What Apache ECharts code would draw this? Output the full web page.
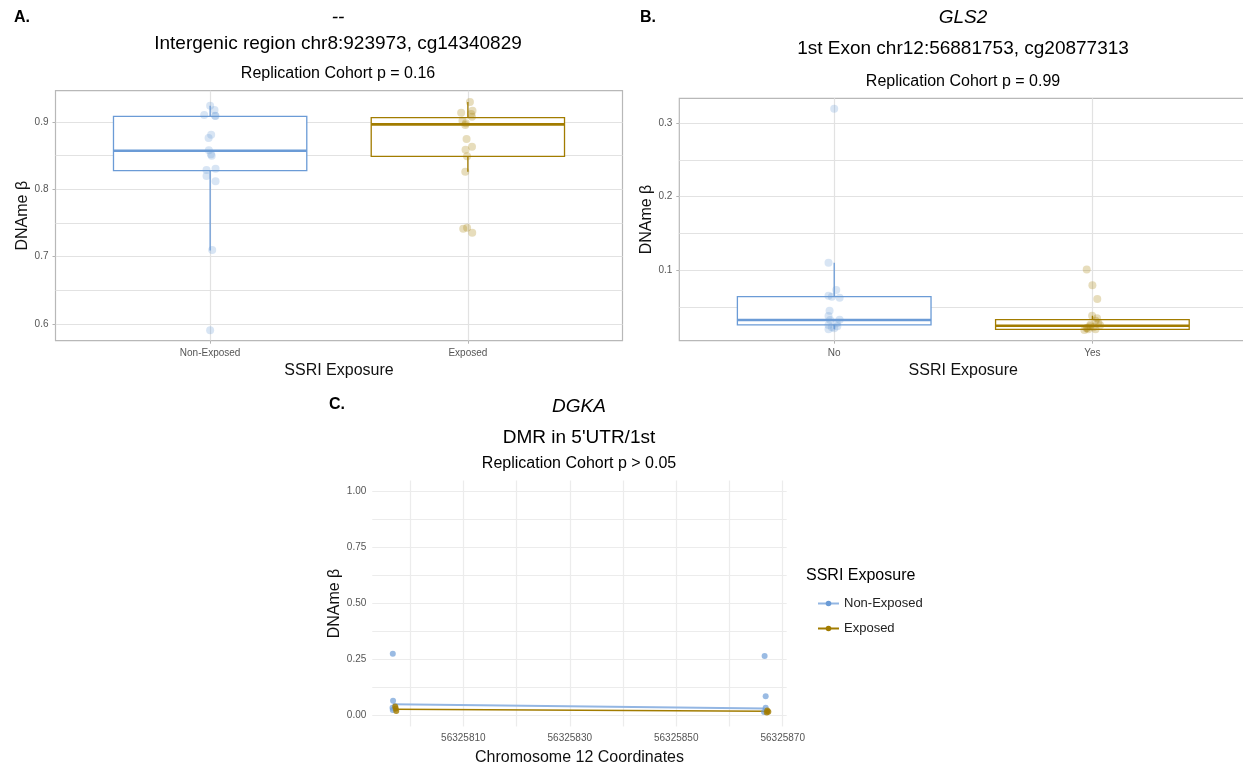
<!DOCTYPE html>
<html>
<head>
<meta charset="utf-8">
<title>SSRI exposure and DNA methylation</title>
<script src="https://cdn.jsdelivr.net/npm/echarts@6/dist/echarts.min.js"></script>
<style>
  html, body { margin: 0; padding: 0; background: #fff; }
  #chart { width: 1243px; height: 767px; }
</style>
</head>
<body>
<div id="chart"></div>
<script>
// ---- values ----
var groupsA = ['Non-Exposed', 'Exposed'];
var groupsB = ['No', 'Yes'];

// box stats: [x, lower whisker, Q1, median, Q3, upper whisker]
var boxA = [[1, 0.7093, 0.8277, 0.8574, 0.9085, 0.9242],
            [2, 0.8262, 0.8490, 0.8965, 0.9064, 0.9297]];
var boxB = [[1, 0.0200, 0.0260, 0.0326, 0.0642, 0.1103],
            [2, 0.0190, 0.0200, 0.0248, 0.0330, 0.0384]];

// jittered points [x, beta]
var pointsA_ne = [[1.000, 0.9242], [1.017, 0.9178], [0.977, 0.9104], [1.019, 0.9094], [1.021, 0.9090],
  [1.004, 0.8812], [0.994, 0.8762], [0.995, 0.8580], [1.003, 0.8520], [1.006, 0.8500], [0.986, 0.8287],
  [1.021, 0.8306], [0.986, 0.8198], [1.021, 0.8119], [1.008, 0.7098], [1.000, 0.5909]];
var pointsA_ex = [[2.008, 0.9297], [2.018, 0.9168], [1.974, 0.9138], [2.013, 0.9119], [2.016, 0.9079],
  [1.979, 0.9020], [1.992, 0.8980], [1.990, 0.8955], [1.995, 0.8747], [2.016, 0.8633], [1.991, 0.8589],
  [1.997, 0.8490], [1.990, 0.8262], [1.997, 0.7430], [1.982, 0.7415], [2.017, 0.7356]];
var pointsB_no = [[0.978, 0.1103], [1.008, 0.0733], [0.978, 0.0656], [0.991, 0.0642], [1.021, 0.0628],
  [0.982, 0.0452], [0.978, 0.0380], [0.984, 0.0326], [1.021, 0.0330], [1.010, 0.0281], [0.978, 0.0258],
  [0.991, 0.0226], [0.978, 0.0200], [1.000, 0.0215], [1.012, 0.0240], [1.000, 0.3193]];
var pointsB_yes = [[1.978, 0.1013], [2.000, 0.0796], [2.019, 0.0611], [1.999, 0.0384], [2.018, 0.0349],
  [2.012, 0.0316], [2.023, 0.0289], [1.992, 0.0262], [1.977, 0.0213], [1.969, 0.0190], [1.984, 0.0200],
  [2.012, 0.0200], [2.004, 0.0226], [1.992, 0.0240], [2.030, 0.0255], [1.980, 0.0220]];

// panel C: CpG positions on chr12
var pointsC_ne = [[56325796.75, 0.275], [56325796.8, 0.0655], [56325796.7, 0.034], [56325796.75, 0.024],
  [56325866.6, 0.265], [56325866.8, 0.085], [56325866.8, 0.034], [56325866.5, 0.015]];
var pointsC_ex = [[56325797.2, 0.039], [56325797.3, 0.030], [56325797.4, 0.019],
  [56325867.1, 0.022], [56325867.3, 0.016], [56325867.0, 0.013]];
var meanC_ne = [[56325796.75, 0.049], [56325866.6, 0.031]];
var meanC_ex = [[56325797.25, 0.027], [56325867.1, 0.018]];

// tick labels and grid lines
var catTicks = [1, 2];
var ticksA = [0.6, 0.7, 0.8, 0.9];
var gridA = [0.6, 0.65, 0.7, 0.75, 0.8, 0.85, 0.9];
var ticksB = [0.1, 0.2, 0.3];
var gridB = [0.05, 0.1, 0.15, 0.2, 0.25, 0.3];
var ticksCx = [56325810, 56325830, 56325850, 56325870];
var gridCx = [56325800, 56325810, 56325820, 56325830, 56325840, 56325850, 56325860, 56325870];
var ticksCy = [0, 0.25, 0.5, 0.75, 1];
var gridCy = [0, 0.125, 0.25, 0.375, 0.5, 0.625, 0.75, 0.875, 1];

// ---- styling ----
var FONT = "'Liberation Sans', Arial, sans-serif";
var BLUE = '#6b9bd6';
var GOLD = '#a27c00';
var groupColors = [BLUE, GOLD];
var LIGHT_GRID = '#e2e2e2';

function boxItem(boxWidth) {
  return function (params, api) {
    var x = api.value(0);
    var lo = api.value(1), q1 = api.value(2), med = api.value(3), q3 = api.value(4), hi = api.value(5);
    var tl = api.coord([x - boxWidth / 2, q3]);
    var br = api.coord([x + boxWidth / 2, q1]);
    var mL = api.coord([x - boxWidth / 2, med]);
    var mR = api.coord([x + boxWidth / 2, med]);
    var pHi = api.coord([x, hi]), pQ3 = api.coord([x, q3]);
    var pLo = api.coord([x, lo]), pQ1 = api.coord([x, q1]);
    var c = groupColors[params.dataIndex];
    return {
      type: 'group',
      children: [
        { type: 'line', shape: { x1: pHi[0], y1: pHi[1], x2: pQ3[0], y2: pQ3[1] }, style: { stroke: c, lineWidth: 1.3 } },
        { type: 'line', shape: { x1: pLo[0], y1: pLo[1], x2: pQ1[0], y2: pQ1[1] }, style: { stroke: c, lineWidth: 1.3 } },
        { type: 'rect', shape: { x: tl[0], y: tl[1], width: br[0] - tl[0], height: br[1] - tl[1] },
          style: { fill: '#fff', stroke: c, lineWidth: 1.3 } },
        { type: 'line', shape: { x1: mL[0], y1: mL[1], x2: mR[0], y2: mR[1] }, style: { stroke: c, lineWidth: 2.6 } }
      ]
    };
  };
}

function catAxis(gridIndex, names) {
  return {
    type: 'value', gridIndex: gridIndex, min: 0.4, max: 2.6,
    name: 'SSRI Exposure', nameLocation: 'middle', nameGap: 22,
    nameTextStyle: { fontSize: 16, color: '#111', fontFamily: FONT },
    axisLine: { show: false },
    axisTick: { show: true, customValues: catTicks, length: 3, lineStyle: { color: '#b3b3b3' } },
    axisLabel: { customValues: catTicks, margin: 8, fontSize: 10, color: '#555', fontFamily: FONT,
      formatter: function (v) { return names[Math.round(v) - 1]; } },
    splitLine: { show: true, lineStyle: { color: LIGHT_GRID, width: 1.2 } }
  };
}

function valAxis(gridIndex, min, max, ticks, lines, digits) {
  return {
    type: 'value', gridIndex: gridIndex, min: min, max: max,
    name: 'DNAme \u03b2', nameLocation: 'middle', nameGap: 24,
    nameTextStyle: { fontSize: 16, color: '#111', fontFamily: FONT },
    axisLine: { show: false },
    axisTick: { show: false, customValues: lines },
    axisLabel: { customValues: ticks, margin: 7, fontSize: 10, color: '#555', fontFamily: FONT,
      formatter: function (v) { return v.toFixed(digits); } },
    splitLine: { show: true, lineStyle: { color: LIGHT_GRID, width: 1.2 } }
  };
}

// extra axis only to draw the short tick marks at the labelled values
function tickAxis(gridIndex, min, max, ticks) {
  return {
    type: 'value', gridIndex: gridIndex, min: min, max: max, position: 'left',
    axisLine: { show: false }, splitLine: { show: false }, axisLabel: { show: false },
    axisTick: { show: true, customValues: ticks, length: 3, lineStyle: { color: '#b3b3b3' } }
  };
}

function jitter(name, x, y, data, color) {
  return {
    name: name, type: 'scatter', xAxisIndex: x, yAxisIndex: y, data: data, z: 4,
    symbolSize: 8, itemStyle: { color: color }, silent: true
  };
}

function text(str, x, y, size, opts) {
  opts = opts || {};
  return {
    type: 'text', x: x, y: y, silent: true,
    style: {
      text: str, fill: '#000', textAlign: opts.align || 'center', textVerticalAlign: 'middle',
      font: (opts.style || '') + ' ' + (opts.weight || 'normal') + ' ' + size + 'px ' + FONT
    }
  };
}

var chart = echarts.init(document.getElementById('chart'));

var option = {
  backgroundColor: '#fff',
  animation: false,
  grid: [
    { left: 55.5, top: 90.7, width: 567, height: 250, show: true, borderColor: '#b8b8b8', borderWidth: 1.2,
      backgroundColor: 'transparent', outerBoundsMode: 'none' },
    { left: 679.3, top: 98.3, width: 568, height: 242.4, show: true, borderColor: '#b8b8b8', borderWidth: 1.2,
      backgroundColor: 'transparent', outerBoundsMode: 'none' },
    { left: 372.3, top: 480.5, width: 414.4, height: 246, outerBoundsMode: 'none' }
  ],
  xAxis: [
    catAxis(0, groupsA),
    catAxis(1, groupsB),
    {
      type: 'value', gridIndex: 2, min: 56325792.9, max: 56325870.75,
      name: 'Chromosome 12 Coordinates', nameLocation: 'middle', nameGap: 23,
      nameTextStyle: { fontSize: 16, color: '#111', fontFamily: FONT },
      axisLine: { show: false },
      axisTick: { show: false, customValues: gridCx },
      axisLabel: { customValues: ticksCx, margin: 7, fontSize: 10, color: '#555', fontFamily: FONT,
        formatter: function (v) { return String(Math.round(v)); } },
      splitLine: { show: true, lineStyle: { color: '#ececec', width: 1.2 } }
    }
  ],
  yAxis: [
    valAxis(0, 0.5752, 0.9465, ticksA, gridA, 1),
    tickAxis(0, 0.5752, 0.9465, ticksA),
    valAxis(1, 0.0045, 0.3335, ticksB, gridB, 1),
    tickAxis(1, 0.0045, 0.3335, ticksB),
    {
      type: 'value', gridIndex: 2, min: -0.05, max: 1.05,
      name: 'DNAme \u03b2', nameLocation: 'middle', nameGap: 27,
      nameTextStyle: { fontSize: 16, color: '#111', fontFamily: FONT },
      axisLine: { show: false },
      axisTick: { show: false, customValues: gridCy },
      axisLabel: { customValues: ticksCy, margin: 6, fontSize: 10, color: '#555', fontFamily: FONT,
        formatter: function (v) { return v.toFixed(2); } },
      splitLine: { show: true, lineStyle: { color: '#ececec', width: 1.2 } }
    }
  ],
  legend: {
    data: ['Non-Exposed', 'Exposed'], orient: 'vertical', left: 812, top: 592,
    itemWidth: 21, itemHeight: 7, itemGap: 12, selectedMode: false,
    textStyle: { fontSize: 13, color: '#222', fontFamily: FONT }
  },
  graphic: [
    text('A.', 14, 18, 16, { align: 'left', weight: 'bold' }),
    text('--', 338, 18, 19, { style: 'italic' }),
    text('Intergenic region chr8:923973, cg14340829', 338, 44, 19),
    text('Replication Cohort p = 0.16', 338, 74, 16),
    text('B.', 640, 18, 16, { align: 'left', weight: 'bold' }),
    text('GLS2', 963, 18, 19, { style: 'italic' }),
    text('1st Exon chr12:56881753, cg20877313', 963, 49, 19),
    text('Replication Cohort p = 0.99', 963, 82, 16),
    text('C.', 329, 405, 16, { align: 'left', weight: 'bold' }),
    text('DGKA', 579, 407, 19, { style: 'italic' }),
    text("DMR in 5'UTR/1st", 579, 438, 19),
    text('Replication Cohort p > 0.05', 579, 464, 16),
    text('SSRI Exposure', 806, 576, 16, { align: 'left' })
  ],
  series: [
    { name: 'A box', type: 'custom', xAxisIndex: 0, yAxisIndex: 0, data: boxA, z: 2, silent: true,
      encode: { x: 0, y: [1, 2, 3, 4, 5] }, renderItem: boxItem(0.75) },
    jitter('A Non-Exposed', 0, 0, pointsA_ne, 'rgba(107,155,214,0.33)'),
    jitter('A Exposed', 0, 0, pointsA_ex, 'rgba(162,124,0,0.33)'),

    { name: 'B box', type: 'custom', xAxisIndex: 1, yAxisIndex: 2, data: boxB, z: 2, silent: true,
      encode: { x: 0, y: [1, 2, 3, 4, 5] }, renderItem: boxItem(0.75) },
    jitter('B No', 1, 2, pointsB_no, 'rgba(107,155,214,0.33)'),
    jitter('B Yes', 1, 2, pointsB_yes, 'rgba(162,124,0,0.33)'),

    { name: 'Non-Exposed', type: 'line', xAxisIndex: 2, yAxisIndex: 4, data: meanC_ne, showSymbol: false,
      symbol: 'circle', symbolSize: 5, lineStyle: { color: '#93b6e3', width: 2 }, itemStyle: { color: BLUE }, z: 3 },
    { name: 'Exposed', type: 'line', xAxisIndex: 2, yAxisIndex: 4, data: meanC_ex, showSymbol: false,
      symbol: 'circle', symbolSize: 5, lineStyle: { color: GOLD, width: 1.4 }, itemStyle: { color: GOLD }, z: 3 },
    { name: 'Non-Exposed', type: 'scatter', xAxisIndex: 2, yAxisIndex: 4, data: pointsC_ne, symbolSize: 6,
      itemStyle: { color: 'rgba(107,155,214,0.85)' }, z: 4 },
    { name: 'Exposed', type: 'scatter', xAxisIndex: 2, yAxisIndex: 4, data: pointsC_ex, symbolSize: 6,
      itemStyle: { color: GOLD }, z: 5 }
  ]
};

chart.setOption(option);
</script>
</body>
</html>
